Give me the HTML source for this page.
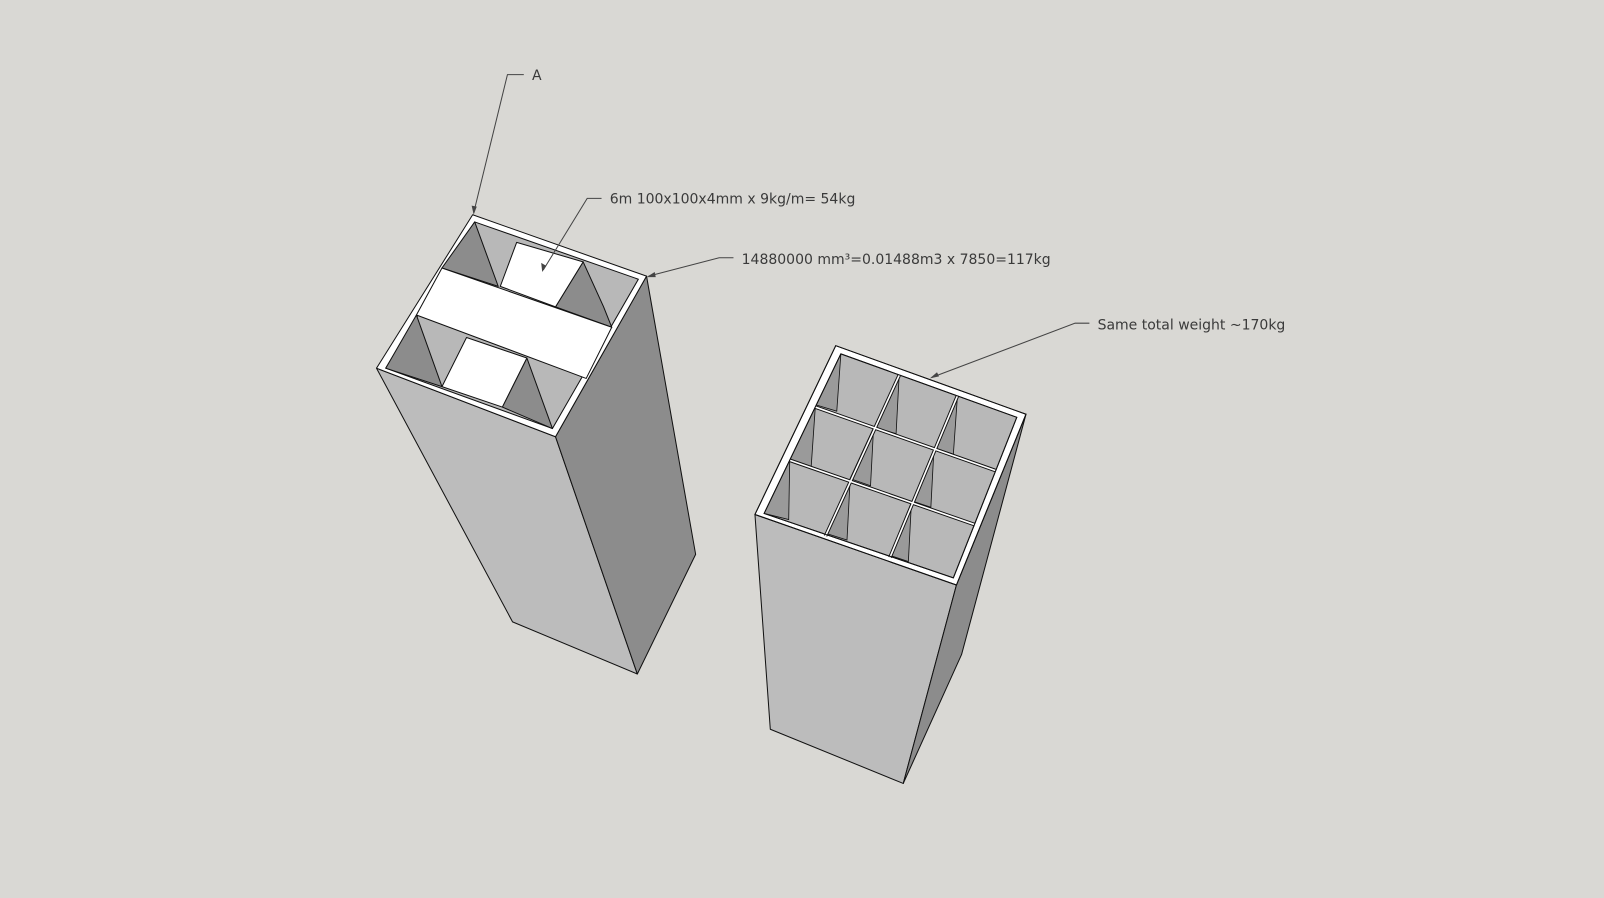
<!DOCTYPE html>
<html><head><style>
html,body{margin:0;padding:0;background:#d9d8d4;}
svg{display:block}
text{font-family:"DejaVu Sans","Liberation Sans",sans-serif;font-size:13.7px;fill:#3a3a3a}
</style></head><body>
<svg width="1604" height="898" viewBox="0 0 1568 878" xmlns="http://www.w3.org/2000/svg">
<rect width="1568" height="878" fill="#d9d8d4"/>
<g stroke="#111" stroke-width="1" stroke-linejoin="round">
<!-- left column -->
<polygon points="368,360 543,427 623,659 501,608" fill="#bcbcbc"/>
<polygon points="543,427 632,270 680,542 623,659" fill="#8c8c8c"/>
<polygon points="462,210 632,270 543,427 368,360" fill="#fff"/>
<polygon points="464,217 624,273 540,419 377,360" fill="#b8b8b8"/>
<polygon points="464,217 487,280 432,262" fill="#8c8c8c"/>
<polygon points="570,256 543,300 598,320 590,300" fill="#8c8c8c"/>
<polygon points="377,360 407,308 432,378" fill="#8c8c8c"/>
<polygon points="515,350 491,398 540,419" fill="#8c8c8c"/>
<polygon points="505,237 570,256 543,300 489,280" fill="#fff"/>
<polygon points="456,330 515,350 491,398 432,378" fill="#fff"/>
<polygon points="432,262 598,320 573,370 407,308" fill="#fff"/>
<!-- right column -->
<polygon points="738,503 935,572 883,766 753,713" fill="#bcbcbc"/>
<polygon points="935,572 1003,405 940,640 883,766" fill="#8c8c8c"/>
<polygon points="817,338 1003,405 935,572 738,503" fill="#fff"/>
<polygon points="822,346 994,408 932,565 747,502" fill="#b8b8b8"/>
</g>
<g fill="#9a9a9a" stroke="#111" stroke-width="0.8">
<polygon points="822,346 798,396 818,402"/>
<polygon points="879,367 856,418 876,424"/>
<polygon points="936,387 914,438 932,444"/>
<polygon points="797,398 772,450 793,456"/>
<polygon points="854,418 831,468 851,475"/>
<polygon points="913,439 892,490 910,496"/>
<polygon points="772,450 747,502 771,508"/>
<polygon points="831,470 809,522 828,528"/>
<polygon points="891,491 870,543 888,549"/>
</g>
<g stroke="#111" stroke-width="3.5" fill="none">
<line x1="879" y1="367" x2="807" y2="524"/>
<line x1="936" y1="387" x2="870" y2="545"/>
<line x1="797" y1="398" x2="973" y2="460"/>
<line x1="772" y1="450" x2="953" y2="513"/>
</g>
<g stroke="#fff" stroke-width="1.6" fill="none">
<line x1="879" y1="367" x2="807" y2="524"/>
<line x1="936" y1="387" x2="870" y2="545"/>
<line x1="797" y1="398" x2="973" y2="460"/>
<line x1="772" y1="450" x2="953" y2="513"/>
</g>
<g stroke="#111" stroke-width="1" fill="none">
<polygon points="822,346 994,408 932,565 747,502"/>
<polygon points="817,338 1003,405 935,572 738,503"/>
</g>
<!-- leaders -->
<g stroke="#444" stroke-width="1" fill="none">
<polyline points="512,73 496,73 463,208"/>
<polyline points="588,194 574,194 531,264"/>
<polyline points="717,252 703,252 634,270"/>
<polyline points="1065,316 1051,316 911,369"/>
</g>
<g fill="#444">
<polygon points="463,210 461,201 466,202"/>
<polygon points="530,266 529,257 534,260"/>
<polygon points="632,271 640,266 641,271"/>
<polygon points="909,370 916,364 918,368"/>
</g>
<text x="520" y="78">A</text>
<text x="596" y="199">6m 100x100x4mm  x 9kg/m= 54kg</text>
<text x="725" y="258">14880000 mm³=0.01488m3 x 7850=117kg</text>
<text x="1073" y="322">Same total weight ~170kg</text>
</svg>
</body></html>
